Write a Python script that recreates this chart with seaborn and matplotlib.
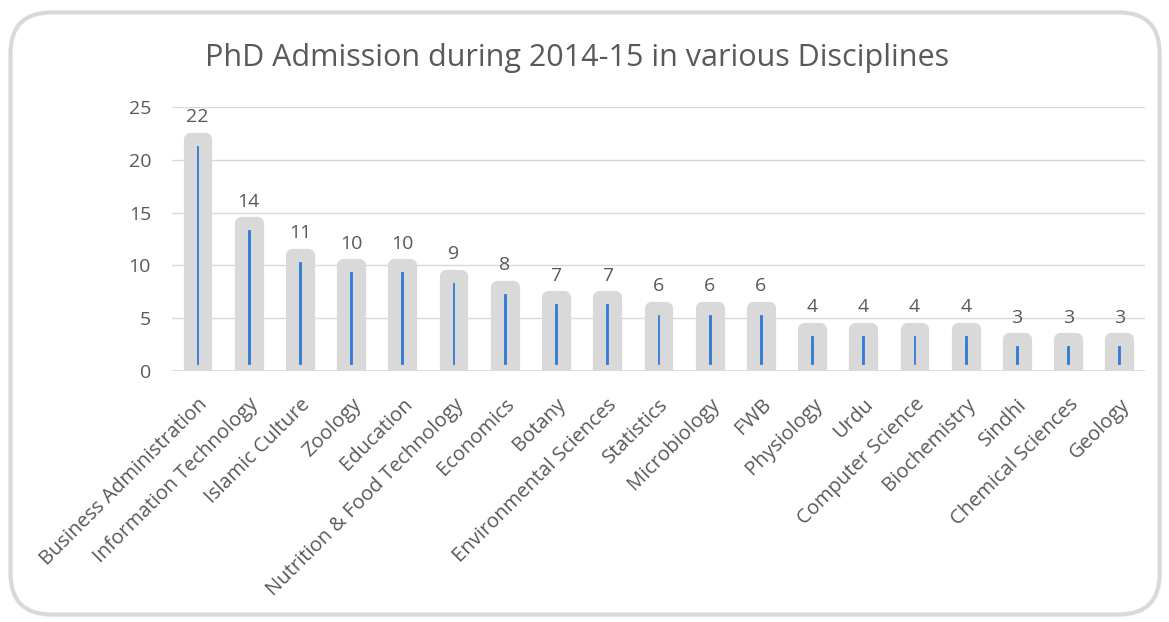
import matplotlib
matplotlib.use('Agg')
import matplotlib.pyplot as plt
from matplotlib.patches import FancyBboxPatch
import seaborn as sns

# data
disciplines = ['Business Administration', 'Information Technology', 'Islamic Culture',
               'Zoology', 'Education', 'Nutrition & Food Technology', 'Economics',
               'Botany', 'Environmental Sciences', 'Statistics', 'Microbiology', 'FWB',
               'Physiology', 'Urdu', 'Computer Science', 'Biochemistry', 'Sindhi',
               'Chemical Sciences', 'Geology']
admissions = [22, 14, 11, 10, 10, 9, 8, 7, 7, 6, 6, 6, 4, 4, 4, 4, 3, 3, 3]
y_ticks = [0, 5, 10, 15, 20, 25]

TEXT = '#595959'
GREY = '#d9d9d9'
BLUE = '#2e7ad6'

sns.set_theme(style='white')
plt.rcParams['font.family'] = ['Open Sans', 'DejaVu Sans']

fig = plt.figure(figsize=(11.69, 6.22), dpi=100)

# rounded frame round the whole chart
frame = FancyBboxPatch((0.009, 0.012), 0.983, 0.968,
                       boxstyle='round,pad=0,rounding_size=0.035',
                       transform=fig.transFigure, facecolor='white',
                       edgecolor=GREY, linewidth=3, mutation_aspect=1169 / 622,
                       zorder=-10)
fig.patches.append(frame)

ax = fig.add_axes([0.147, 0.4035, 0.8325, 0.4245])
ax.set_facecolor('none')

# thin blue bar inside a thick rounded grey outline
sns.barplot(x=disciplines, y=admissions, color=BLUE, saturation=1,
            width=0.31, linewidth=9.5, edgecolor=GREY, ax=ax, zorder=3)
for p in ax.patches:
    p.set_joinstyle('round')

ax.bar_label(ax.containers[0], labels=[str(v) for v in admissions],
             padding=9, fontsize=14, color=TEXT)

ax.set_ylim(0, 25)
ax.set_xlim(-0.5, len(disciplines) - 0.5)
ax.set_yticks(y_ticks)
ax.yaxis.grid(True, color=GREY, linewidth=1)
ax.set_axisbelow(True)
for s in ax.spines.values():
    s.set_visible(False)
ax.axhline(0, color=GREY, linewidth=1.2, zorder=1)

ax.tick_params(axis='y', labelsize=14, labelcolor=TEXT, length=0, pad=15)
ax.tick_params(axis='x', labelsize=14.5, labelcolor=TEXT, length=0, pad=17)
plt.setp(ax.get_xticklabels(), rotation=45, ha='right', rotation_mode='anchor')
ax.set_xlabel('')
ax.set_ylabel('')

fig.text(0.494, 0.906, 'PhD Admission during 2014-15 in various Disciplines',
         ha='center', va='center', fontsize=22, color=TEXT)

fig.savefig('out.png', dpi=100)
